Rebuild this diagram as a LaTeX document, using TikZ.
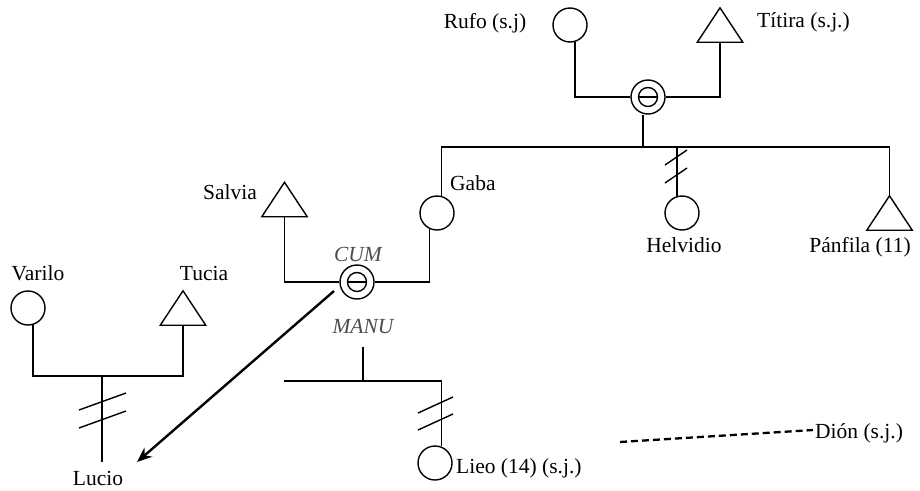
\documentclass[tikz,border=0pt]{standalone}
\usepackage{fontspec}
\setmainfont{Liberation Serif}
\usetikzlibrary{arrows.meta}
\begin{document}
\begin{tikzpicture}[x=1pt,y=-1pt,
 person/.style={circle,draw,minimum size=34pt,inner sep=0pt,line width=1.4pt},
 tri/.style={rectangle,minimum width=45pt,minimum height=34pt,inner sep=0pt},
 union/.style={circle,draw,minimum size=34pt,inner sep=0pt,line width=1.4pt},
 lbl/.style={inner sep=0pt,font=\fontsize{21.5}{25}\selectfont},
 ital/.style={inner sep=0pt,font=\fontsize{21.5}{25}\selectfont\itshape,text=black!70},
 link/.style={line width=1.4pt},
 hash/.style={line width=1.4pt},
 trishape/.style={line width=1.4pt,line join=miter},
]
\useasboundingbox (0,0) rectangle (920,490);

% persons
\node[person] (rufo) at (570,25) {};
\node[tri] (titira) at (720,25) {};
\node[union] (m1) at (648,97) {};
\node[person] (gaba) at (437,213) {};
\node[person] (helv) at (682,213) {};
\node[tri] (panf) at (889.5,213) {};
\node[tri] (salvia) at (284.5,199.5) {};
\node[union] (m2) at (357,282) {};
\node[person] (varilo) at (28,308) {};
\node[tri] (tucia) at (183,308) {};
\node[person] (lieo) at (435,463) {};

\foreach \t in {titira,panf,salvia,tucia}
  \draw[trishape] (\t.south west) -- (\t.south east) -- (\t.north) -- cycle;
\foreach \m in {m1,m2}{
  \draw[link] (\m) circle[radius=9.5pt];
  \draw[link] ([xshift=-9.5pt]\m.center) -- ([xshift=9.5pt]\m.center);
}

% labels
\node[lbl,anchor=base] (lrufo) at (485,28) {Rufo (s.j)};
\node[lbl,anchor=base west] (ltit) at (757,27) {Títira (s.j.)};
\node[lbl,anchor=base west] (lgaba) at (450,190) {Gaba};
\node[lbl,anchor=base] (lsal) at (230,199) {Salvia};
\node[ital,anchor=base] (lcum) at (358,261) {CUM};
\node[ital,anchor=base] (lmanu) at (363,333) {MANU};
\node[lbl,anchor=base] (lhelv) at (684,252) {Helvidio};
\node[lbl,anchor=base] (lpanf) at (860,252) {Pánfila (11)};
\node[lbl,anchor=base] (lvar) at (38,280) {Varilo};
\node[lbl,anchor=base] (ltuc) at (204,280) {Tucia};
\node[lbl,anchor=base] (lucio) at (98,485) {Lucio};
\node[lbl,anchor=base west] (llieo) at (456,473) {Lieo (14) (s.j.)};
\node[lbl,anchor=base west] (ldion) at (815,438) {Dión (s.j.)};

% coordinates
\coordinate (bar1) at (643,147);
\coordinate (bar2) at (102,376);
\coordinate (lucend) at (102,462);
\coordinate (manutop) at (363,347);
\coordinate (bar3) at (363,381);
\coordinate (bar3l) at (284,381);
\coordinate (m2r) at (430,282);
\coordinate (arrstart) at (334,291);
\coordinate (arrend) at (137,462);
\coordinate (dashA) at (620,442);
\coordinate (dashB) at (813,430);

% top couple
\draw[link] (rufo.-73) |- (m1.west);
\draw[link] (titira.south) |- (m1.east);
\draw[link] (m1.south -| bar1) -- (bar1);
\draw[link] (gaba.76) -- (gaba.76 |- bar1) -- (panf.north |- bar1) -- (panf.north);
\draw[link] (helv.107 |- bar1) -- (helv.107);
\draw[hash] (665,165) -- (687,150);
\draw[hash] (665,183) -- (687,168);

% middle couple
\draw[link] (salvia.south) |- (m2.west);
\draw[link] (m2.east) -- (m2r) -- (gaba.-115 |- m2r) -- (gaba.-115);
\draw[link] (manutop) -- (bar3);
\draw[link] (bar3l) -- (bar3) -- (lieo.69 |- bar3) -- (lieo.69);
\draw[hash] (418,413) -- (453,397);
\draw[hash] (418,430) -- (453,414);

% left couple
\draw[link] (varilo.-73) |- (bar2);
\draw[link] (bar2) -| (tucia.south);
\draw[link] (bar2) -- (lucend);
\draw[hash] (79,410) -- (126,393);
\draw[hash] (79,428) -- (126,411);

% arrow and dashed line
\draw[line width=2.4pt,-{Stealth[length=15pt,width=12pt]}] (arrstart) -- (arrend);
\draw[line width=2.3pt,dash pattern=on 7pt off 4pt] (dashA) -- (dashB);
\end{tikzpicture}
\end{document}
